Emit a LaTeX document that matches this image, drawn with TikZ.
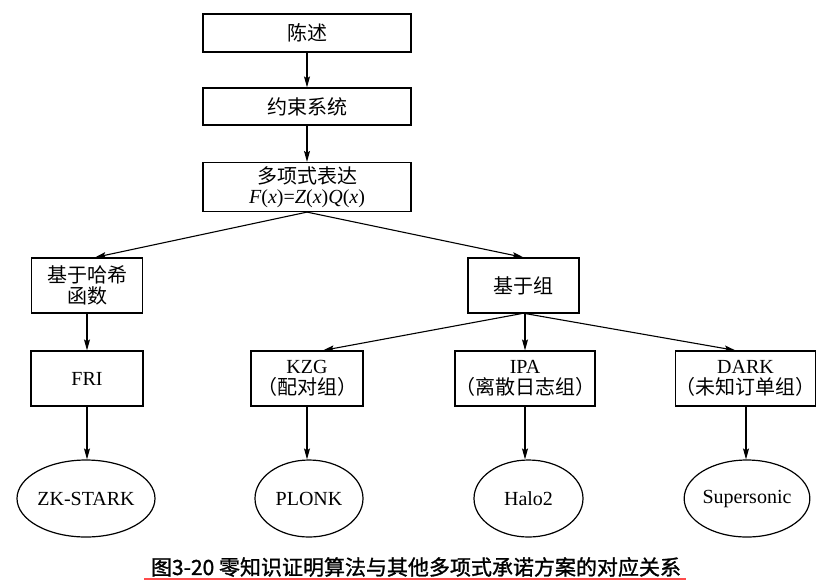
\documentclass[tikz,border=0pt]{standalone}
\usepackage{fontspec}
\setmainfont{Liberation Serif}
\newfontfamily\cjk{Noto Sans CJK SC}
\newfontfamily\cjkcap[FakeBold=1.2]{Noto Sans CJK SC}
\usetikzlibrary{arrows.meta,shapes.geometric}
\tikzset{
  box/.style={draw, line width=1.2pt, inner sep=0pt, align=center,
    font=\fontsize{20}{21}\selectfont},
  oval/.style={draw, ellipse, line width=1.2pt, inner sep=0pt, minimum height=77pt,
    font=\fontsize{20}{21}\selectfont},
  arr/.style={line width=1.1pt, -{Stealth[length=11pt,width=6pt,inset=2pt]}}
}
\begin{document}
\begin{tikzpicture}[x=1pt,y=-1pt]
\useasboundingbox (0,0) rectangle (826,582);
% top chain
\node[box, minimum width=208pt, minimum height=38pt] (s1) at (307,33) {\cjk 陈述};
\node[box, minimum width=208pt, minimum height=37pt] (s2) at (307,106.5) {\cjk 约束系统};
\node[box, minimum width=208pt, minimum height=49pt] (s3) at (307,187)
  {{\cjk 多项式表达}\\[-1pt]\textit{F}(\textit{x})=\textit{Z}(\textit{x})\textit{Q}(\textit{x})};
% second level
\node[box, minimum width=111pt, minimum height=55pt] (h1) at (87,285.5) {\cjk 基于哈希\\\cjk 函数};
\node[box, minimum width=111pt, minimum height=55pt] (g1) at (523.5,285.5) {\cjk 基于组};
% third level
\node[box, minimum width=112pt, minimum height=55pt] (fri) at (87,378.5) {FRI};
\node[box, minimum width=112pt, minimum height=55pt] (kzg) at (307,378.5) {KZG\\{\cjk （配对组）}};
\node[box, minimum width=136pt, minimum height=55pt] (ipa) at (525,378.5) {IPA\\{\cjk （离散日志组）}};
\node[box, minimum width=135pt, minimum height=55pt] (dark) at (745.5,378.5) {DARK\\{\cjk （未知订单组）}};
% ellipses
\node[oval, minimum width=138pt] (zk) at (86,498.5) {ZK-STARK};
\node[oval, minimum width=108pt] (plonk) at (309,498.5) {PLONK};
\node[oval, minimum width=109pt] (halo) at (528.5,498.5) {Halo2};
\node[oval, minimum width=109pt] (super) at (747,498.5) {Supersonic};
% connectors
\draw[arr] (s1) -- (s2);
\draw[arr] (s2) -- (s3);
\draw[arr] (s3.south) -- ([xshift=8pt]h1.north);
\draw[arr] (s3.south) -- (g1.north);
\draw[arr] (h1) -- (fri);
\draw[arr] ([xshift=-2pt]g1.south) -- ([xshift=16pt]kzg.north);
\draw[arr] (ipa.north |- g1.south) -- (ipa.north);
\draw[arr] ([xshift=2pt]g1.south) -- ([xshift=-10pt]dark.north);
\draw[arr] (fri.south) -- (fri.south |- zk.north);
\draw[arr] (kzg.south) -- (kzg.south |- plonk.north);
\draw[arr] (ipa.south) -- (ipa.south |- halo.north);
\draw[arr] ([xshift=0.5pt]dark.south) -- ([xshift=0.5pt]dark.south |- super.north);
% caption
\node[inner sep=0pt, font=\cjkcap\fontsize{21}{21}\selectfont] (cap) at (416,567) {图3-20 零知识证明算法与其他多项式承诺方案的对应关系};
\draw[red!70, line width=1.5pt] (144,579) -- (686,579);
\end{tikzpicture}
\end{document}
